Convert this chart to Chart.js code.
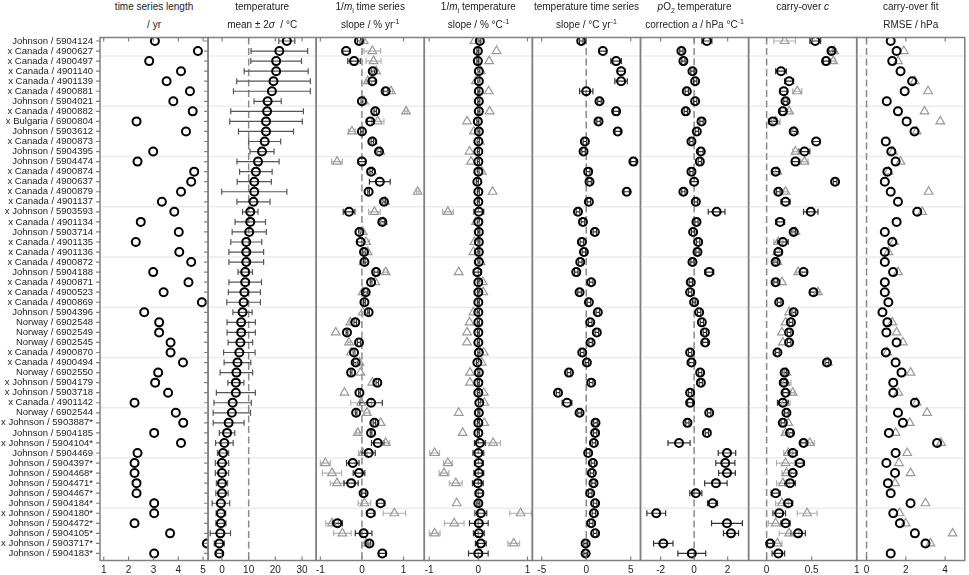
<!DOCTYPE html>
<html>
<head>
<meta charset="utf-8">
<script src="https://cdn.jsdelivr.net/npm/chart.js@4"></script>
<style>
  body { margin: 0; background: #fff; overflow: hidden; }
  #wrap { position: relative; width: 969px; height: 575px; overflow: hidden; font-family: "Liberation Sans", Arial, sans-serif; color: #222; }
  #wrap canvas { position: absolute; top: 0; }
  .hd { position: absolute; top: 0; text-align: center; font-size: 10px; line-height: 12px; white-space: nowrap; }
  .hd div { position: absolute; left: 0; right: 0; }
  .sb { font-size: 7px; position: relative; top: 3px; }
  .sp { font-size: 7px; position: relative; top: -4px; }
</style>
</head>
<body>
<div id="wrap"></div>
<script>
const rowLabels = [
  "Johnson / 5904124", "x Canada / 4900627", "x Canada / 4900497", "x Canada / 4901140", "x Canada / 4901139",
  "x Canada / 4900881", "Johnson / 5904021", "x Canada / 4900882", "x Bulgaria / 6900804", "Johnson / 5903612",
  "x Canada / 4900873", "Johnson / 5904395", "Johnson / 5904474", "x Canada / 4900874", "x Canada / 4900637",
  "x Canada / 4900879", "x Canada / 4901137", "x Johnson / 5903593", "x Canada / 4901134", "Johnson / 5903714",
  "x Canada / 4901135", "x Canada / 4901136", "x Canada / 4900872", "Johnson / 5904188", "x Canada / 4900871",
  "x Canada / 4900523", "x Canada / 4900869", "Johnson / 5904396", "Norway / 6902548", "Norway / 6902549",
  "Norway / 6902545", "x Canada / 4900870", "x Canada / 4900494", "Norway / 6902550", "x Johnson / 5904179",
  "x Johnson / 5903718", "x Canada / 4901142", "Norway / 6902544", "x Johnson / 5903887*", "Johnson / 5904185",
  "x Johnson / 5904104*", "Johnson / 5904469", "Johnson / 5904397*", "Johnson / 5904468*", "Johnson / 5904471*",
  "Johnson / 5904467*", "Johnson / 5904184*", "x Johnson / 5904180*", "Johnson / 5904472*", "Johnson / 5904105*",
  "x Johnson / 5903717*", "Johnson / 5904183*",
]

// time series length / yr
const tsLength = [
  3.06, 4.79, 2.83, 4.11, 3.53, 4.47, 3.80, 4.58, 2.32, 4.31,
  5.6, 2.99, 2.36, 4.64, 4.52, 4.11, 3.34, 3.84, 2.49, 4.02,
  2.29, 4.04, 4.52, 2.99, 4.41, 3.41, 4.95, 2.63, 3.23, 3.23,
  3.69, 3.69, 4.19, 3.19, 3.07, 3.59, 2.24, 3.90, 4.20, 3.03,
  4.11, 2.36, 2.24, 2.24, 2.32, 2.32, 3.03, 3.03, 2.24, 3.67,
  5.15, 3.03,
]

// temperature mean and 2 sigma / degC
const tempMean = [
  24.3, 21.5, 20.3, 20.3, 19.3, 18.7, 17.1, 16.9, 16.5, 16.5,
  16.0, 15.0, 13.5, 12.7, 12.1, 12.1, 11.8, 10.6, 10.6, 10.2,
  9.1, 9.1, 9.1, 8.7, 8.7, 8.4, 8.1, 7.7, 7.2, 7.2,
  6.9, 6.5, 5.8, 5.4, 5.2, 5.2, 4.0, 3.7, 2.5, 1.9,
  0.9, 0.4, 0.0, 0.0, 0.0, 0.0, -0.4, -0.4, -0.4, -0.6,
  -1.0, -1.0,
]
const temp2Sigma = [
  3.0, 10.6, 9.5, 12.0, 13.8, 14.4, 5.1, 13.6, 13.6, 10.3,
  6.0, 4.5, 7.9, 6.1, 6.4, 12.2, 6.2, 2.9, 5.7, 6.4,
  5.8, 6.5, 6.5, 2.7, 6.1, 6.0, 6.3, 3.6, 5.3, 5.3,
  4.6, 5.9, 5.0, 6.1, 3.0, 7.3, 7.0, 7.0, 5.8, 2.9,
  3.3, 2.1, 2.5, 2.5, 2.1, 2.3, 3.3, 1.8, 1.9, 3.8,
  1.9, 1.1,
]

// 1/m_i time series slope / % per yr (circles, triangles)
const slopeTime = [
  -0.07, -0.38, -0.19, 0.26, 0.25, 0.57, 0.0, 0.32, 0.2, 0.0,
  0.25, 0.41, 0.0, 0.22, 0.43, 0.16, 0.53, -0.31, 0.49, -0.06,
  -0.03, 0.05, 0.06, 0.34, 0.22, 0.09, 0.06, 0.16, -0.16, -0.36,
  -0.07, -0.19, -0.15, -0.26, 0.37, -0.06, 0.22, -0.14, 0.3, 0.22,
  0.38, 0.16, -0.22, -0.07, -0.26, 0.04, 0.45, 0.21, -0.59, 0.04,
  0.18, 0.49,
]
const slopeTimeErr = [
  0.04, 0.09, 0.15, 0.04, 0.07, 0.05, 0.02, 0.03, 0.07, 0.03,
  0.03, 0.05, 0.09, 0.03, 0.25, 0.02, 0.04, 0.14, 0.05, 0.02,
  0.08, 0.03, 0.02, 0.05, 0.02, 0.05, 0.02, 0.02, 0.03, 0.02,
  0.04, 0.02, 0.05, 0.02, 0.03, 0.02, 0.27, 0.02, 0.03, 0.02,
  0.15, 0.16, 0.15, 0.14, 0.17, 0.05, 0.1, 0.1, 0.12, 0.2,
  0.03, 0.09,
]
const slopeTimeAlt = [
  0.04, 0.25, 0.28, 0.34, 0.14, 0.70, 0.05, 1.06, 0.38, -0.24,
  0.26, 0.44, -0.6, 0.24, null, 1.34, 0.56, 0.30, 0.51, 0.02,
  0.10, 0.14, 0.04, 0.57, 0.32, 0.02, null, 0.02, -0.28, -0.63,
  -0.31, -0.26, -0.06, -0.04, 0.25, -0.42, -0.02, 0.12, 0.45, -0.1,
  0.57, 0.02, -0.88, -0.72, -0.6, null, 0.06, 0.78, -0.72, -0.47,
  0.1, null,
]
const slopeTimeAltErr = [
  0.02, 0.2, 0.18, 0.03, 0.04, 0.04, 0, 0.03, 0.15, 0.08,
  0, 0, 0.13, 0, 0, 0.03, 0.02, 0.14, 0, 0,
  0.08, 0.03, 0, 0.05, 0, 0.02, 0, 0, 0.03, 0,
  0.03, 0, 0, 0, 0, 0, 0.25, 0.07, 0, 0.04,
  0.1, 0.1, 0.12, 0.23, 0.16, 0, 0.15, 0.27, 0.15, 0.21,
  0.03, 0,
]

// 1/m_i temperature slope / % per degC
const slopeTemp = [
  0.03, -0.01, -0.01, 0.01, 0.01, 0.01, 0.01, 0.01, -0.01, 0.01,
  0, 0, 0, 0, -0.02, 0, 0, 0.01, 0, 0.01,
  0.01, 0.01, 0.01, -0.02, 0, 0, 0, 0, 0, 0,
  0, 0.01, -0.02, 0.01, 0, 0, 0.02, 0.01, 0, 0,
  0.03, 0, 0.01, 0.01, -0.01, 0.02, 0, 0.05, 0.01, 0.01,
  0.05, 0,
]
const slopeTempErr = [
  0.02, 0.02, 0.02, 0.02, 0.02, 0.02, 0.02, 0.02, 0.02, 0.02,
  0.02, 0.02, 0.02, 0.02, 0.02, 0.02, 0.02, 0.1, 0.02, 0.02,
  0.02, 0.02, 0.02, 0.08, 0.02, 0.02, 0.02, 0.02, 0.02, 0.02,
  0.02, 0.02, 0.02, 0.02, 0.02, 0.02, 0.02, 0.02, 0.02, 0.02,
  0.11, 0.11, 0.09, 0.1, 0.11, 0.08, 0.03, 0.12, 0.19, 0.11,
  0.11, 0.2,
]
const slopeTempAlt = [
  -0.08, 0.37, 0.22, 0.05, -0.05, 0.21, null, 0.23, -0.23, -0.09,
  0.03, -0.18, -0.15, 0.07, null, 0.29, null, -0.62, -0.05, null,
  -0.08, -0.1, 0.05, -0.4, 0.09, 0.1, null, -0.1, -0.18, -0.23,
  -0.23, 0.11, 0.07, -0.17, -0.17, 0.11, 0.12, -0.4, 0.12, -0.32,
  0.3, -0.89, -0.62, -0.7, -0.46, null, -0.44, 0.86, -0.49, -0.89,
  0.72, null,
]
const slopeTempAltErr = [
  0, 0, 0, 0, 0, 0, 0, 0, 0, 0,
  0, 0, 0, 0, 0, 0, 0, 0.11, 0, 0,
  0, 0, 0, 0, 0, 0, 0, 0, 0, 0,
  0, 0, 0, 0, 0, 0, 0, 0, 0, 0,
  0.15, 0.1, 0.09, 0.1, 0.13, 0, 0, 0.22, 0.2, 0.11,
  0.12, 0,
]

// temperature time series slope / degC per yr
const tempTrend = [
  -0.56, 1.87, 3.36, 3.92, 3.92, 0.0, 1.49, 3.36, 1.38, 3.54,
  -0.15, -0.3, 5.3, 0.22, 0.37, 4.55, 0.3, -0.93, -0.37, 0.97,
  -0.49, -0.26, -0.67, -1.12, 0.56, -0.75, 0.3, 1.3, 0.45, 1.19,
  0.49, -0.45, 0.07, -1.94, 0.56, -3.17, -2.16, -0.75, 1.04, 1.0,
  0.86, 0.22, 0.75, 0.63, 0.82, 0.45, 1.0, 0.86, 0.56, 1.0,
  -0.07, -0.07,
]
const tempTrendErr = [
  0.2, 0.4, 0.6, 0.4, 0.7, 0.75, 0.2, 0.3, 0.2, 0.3,
  0.2, 0.2, 0.3, 0.2, 0.2, 0.3, 0.2, 0.2, 0.2, 0.2,
  0.2, 0.2, 0.2, 0.2, 0.2, 0.2, 0.2, 0.2, 0.2, 0.2,
  0.2, 0.2, 0.2, 0.2, 0.2, 0.2, 0.55, 0.2, 0.2, 0.2,
  0.2, 0.2, 0.2, 0.2, 0.2, 0.2, 0.2, 0.2, 0.2, 0.2,
  0.2, 0.2,
]

// pO2 temperature correction a / hPa per degC
const corrA = [
  0.76, -0.76, -0.64, -0.1, 0.06, -0.44, 0.06, -0.5, 0.44, 0.16,
  -0.16, 0.4, 0.34, -0.16, 0, -0.64, 0.1, 1.34, 0.14, -0.06,
  0.24, 0.2, -0.1, 0.9, -0.2, -0.24, 0, 0.3, 0.46, 0.64,
  0.66, -0.24, -0.16, 0.36, 0.4, -0.24, -0.24, 0.9, -0.4, 0.76,
  -0.9, 1.96, 1.86, 1.96, 1.3, 0.1, 1.1, -2.26, 1.96, 2.2,
  -1.84, -0.14,
]
const corrAErr = [
  0.3, 0.1, 0.1, 0.1, 0.1, 0.1, 0.1, 0.1, 0.1, 0.1,
  0.1, 0.14, 0.1, 0.1, 0.2, 0.1, 0.1, 0.5, 0.1, 0.1,
  0.1, 0.1, 0.1, 0.27, 0.1, 0.1, 0.1, 0.1, 0.1, 0.1,
  0.15, 0.1, 0.15, 0.1, 0.1, 0.1, 0.15, 0.1, 0.1, 0.1,
  0.66, 0.52, 0.57, 0.5, 0.67, 0.36, 0.3, 0.56, 0.92, 0.45,
  0.58, 0.83,
]

// carry-over c
const carryC = [
  0.54, 0.72, 0.66, 0.16, 0.25, 0.19, 0.21, 0.18, 0.07, 0.30,
  0.55, 0.42, 0.32, 0.1, 0.76, 0.13, 0.21, 0.49, 0.15, 0.3,
  0.18, 0.13, 0.1, 0.41, 0.1, 0.52, 0.14, 0.3, 0.27, 0.25,
  0.25, 0.12, 0.67, 0.2, 0.19, 0.21, 0.18, 0.22, 0.18, 0.26,
  0.41, 0.29, 0.37, 0.29, 0.26, 0.1, 0.24, 0.14, 0.21, 0.35,
  0.04, 0.13,
]
const carryCErr = [
  0.06, 0.03, 0.03, 0.06, 0.05, 0.04, 0.02, 0.03, 0.05, 0.03,
  0.04, 0.06, 0.04, 0.04, 0.02, 0.02, 0.05, 0.08, 0.05, 0.02,
  0.06, 0.04, 0.02, 0.04, 0.02, 0.04, 0.02, 0.02, 0.02, 0.02,
  0.02, 0.02, 0.02, 0.02, 0.03, 0.03, 0.06, 0.02, 0.02, 0.03,
  0.03, 0.05, 0.05, 0.04, 0.06, 0.05, 0.05, 0.07, 0.05, 0.08,
  0.03, 0.07,
]
const carryCAlt = [
  0.20, 0.75, 0.74, null, null, 0.34, null, 0.25, 0.1, 0.31,
  null, 0.32, 0.42, 0.12, null, 0.21, null, null, null, 0.32,
  0.13, 0.12, 0.12, 0.35, 0.17, 0.57, null, 0.25, 0.21, 0.17,
  0.18, null, 0.68, 0.22, 0.21, 0.29, 0.2, null, 0.24, 0.21,
  0.48, 0.24, 0.21, 0.22, 0.18, null, 0.17, 0.45, 0.1, 0.25,
  0.12, null,
]
const carryCAltErr = [
  0.12, 0.02, 0.02, 0, 0, 0.05, 0, 0.02, 0.05, 0,
  0, 0.03, 0.04, 0, 0, 0.02, 0, 0, 0, 0,
  0.05, 0, 0, 0.02, 0, 0.02, 0, 0, 0, 0,
  0, 0, 0, 0.02, 0.06, 0.02, 0.06, 0, 0, 0.03,
  0.05, 0.05, 0.1, 0.05, 0.07, 0, 0.07, 0.11, 0.08, 0.11,
  0.05, 0,
]

// carry-over fit RMSE / hPa
const rmse = [
  1.23, 1.53, 1.31, 1.73, 2.32, 1.94, 1.03, 1.6, 2.04, 2.44,
  0.98, 1.26, 1.48, 1.06, 0.93, 1.23, 1.6, 2.58, 1.53, 0.93,
  1.31, 0.93, 0.93, 1.35, 0.93, 0.93, 1.11, 0.81, 1.06, 1.01,
  1.53, 0.98, 1.48, 1.78, 1.36, 1.36, 2.46, 1.6, 1.85, 1.14,
  3.59, 1.48, 1.01, 1.45, 1.09, 1.23, 2.24, 1.36, 1.7, 2.46,
  3.0, 1.23,
]
const rmseAlt = [
  null, 1.9, 1.6, null, 2.45, 3.13, null, 2.95, 3.75, 2.55,
  null, 1.35, 1.73, 1.12, null, 3.16, null, 2.83, null, null,
  1.4, 1.11, null, 1.6, null, null, null, null, 1.31, 1.53,
  1.85, 1.05, null, 2.24, null, 1.62, 2.55, 3.08, 2.2, 1.48,
  3.79, 2.07, 1.65, 2.24, 1.45, null, 3.0, 1.68, 1.99, 4.38,
  3.25, null,
]

// tick labels of the bottom axes
const lengthTicks = [1, 2, 3, 4, 5]
const tempTicks = [0, 10, 20, 30]
const slopeTimeTicks = [-1, 0, 1]
const slopeTempTicks = [-1, 0, 1]
const trendTicks = [-5, 0, 5]
const corrTicks = [-2, 0, 2]
const carryTicks = [0, 0.5, 1]
const rmseTicks = [0, 2, 4]

const PLOT_LEFT = 100
const PANEL_W = 108.1
const PAD = 12

const panels = [
  { head: ["time series length", "/ yr"], range: [0.85, 5.2], ticks: lengthTicks, ref: null,
    main: tsLength },
  { head: ["temperature", "mean ± 2<i>σ</i>&nbsp; / °C"], range: [-5.2, 35.3], ticks: tempTicks, ref: 10,
    main: tempMean, mainErr: temp2Sigma, errColor: "#555" },
  { head: ["1/<i>m</i><span class=\"sb\">i</span> time series", "slope / % yr<span class=\"sp\">-1</span>"],
    range: [-1.1, 1.5], ticks: slopeTimeTicks, ref: 0,
    main: slopeTime, mainErr: slopeTimeErr, alt: slopeTimeAlt, altErr: slopeTimeAltErr },
  { head: ["1/<i>m</i><span class=\"sb\">i</span> temperature", "slope / % °C<span class=\"sp\">-1</span>"],
    range: [-1.1, 1.1], ticks: slopeTempTicks, ref: 0,
    main: slopeTemp, mainErr: slopeTempErr, alt: slopeTempAlt, altErr: slopeTempAltErr },
  { head: ["temperature time series", "slope / °C yr<span class=\"sp\">-1</span>"],
    range: [-6.05, 6.1], ticks: trendTicks, ref: 0,
    main: tempTrend, mainErr: tempTrendErr },
  { head: ["<i>p</i>O<span class=\"sb\">2</span> temperature", "correction <i>a</i> / hPa °C<span class=\"sp\">-1</span>"],
    range: [-3.2, 3.25], ticks: corrTicks, ref: 0,
    main: corrA, mainErr: corrAErr },
  { head: ["carry-over <i>c</i>", ""], range: [-0.2, 1.0], ticks: carryTicks, ref: 0,
    main: carryC, mainErr: carryCErr, alt: carryCAlt, altErr: carryCAltErr },
  { head: ["carry-over fit", "RMSE / hPa"], range: [-0.5, 5.0], ticks: rmseTicks, ref: 0,
    main: rmse, alt: rmseAlt },
]

const toPoints = (vals, errs) =>
  vals.map((v, i) => ({ x: v, y: i + 1, e: errs ? errs[i] : 0 })).filter(p => p.x !== null)

// frame, separators, reference line and error bars
const framePlugin = {
  id: "frame",
  beforeDatasetsDraw(chart, args, opts) {
    const { ctx, chartArea: a } = chart
    const x = chart.scales.x
    const y = chart.scales.y
    ctx.save()
    ctx.beginPath()
    ctx.rect(a.left, a.top, a.right - a.left, a.bottom - a.top)
    ctx.clip()

    ctx.strokeStyle = "#ebebeb"
    ctx.lineWidth = 1.5
    for (let r = 2.5; r < rowLabels.length; r += 5) {
      const py = y.getPixelForValue(r)
      ctx.beginPath()
      ctx.moveTo(a.left, py)
      ctx.lineTo(a.right, py)
      ctx.stroke()
    }

    if (opts.ref !== null) {
      const px = x.getPixelForValue(opts.ref)
      ctx.strokeStyle = "#8a8a8a"
      ctx.lineWidth = 1.5
      ctx.setLineDash([7, 3.5])
      ctx.beginPath()
      ctx.moveTo(px, a.top)
      ctx.lineTo(px, a.bottom)
      ctx.stroke()
      ctx.setLineDash([])
    }

    ctx.lineWidth = 1.2
    chart.data.datasets.slice().reverse().forEach(ds => {
      ctx.strokeStyle = ds.errColor
      ds.data.forEach(pt => {
        if (!pt.e) return
        const x0 = x.getPixelForValue(pt.x - pt.e)
        const x1 = x.getPixelForValue(pt.x + pt.e)
        const py = y.getPixelForValue(pt.y)
        ctx.beginPath()
        ctx.moveTo(x0, py)
        ctx.lineTo(x1, py)
        ctx.moveTo(x0, py - 3)
        ctx.lineTo(x0, py + 3)
        ctx.moveTo(x1, py - 3)
        ctx.lineTo(x1, py + 3)
        ctx.stroke()
      })
    })
    ctx.restore()
  },
  afterDraw(chart, args, opts) {
    const { ctx, chartArea: a } = chart
    const x = chart.scales.x
    const y = chart.scales.y
    ctx.save()
    ctx.strokeStyle = "#808080"
    ctx.lineWidth = 1.5
    ctx.strokeRect(a.left, a.top, a.right - a.left, a.bottom - a.top)
    ctx.lineWidth = 1.2
    ctx.beginPath()
    x.ticks.forEach(t => {
      const px = x.getPixelForValue(t.value)
      ctx.moveTo(px, a.top)
      ctx.lineTo(px, a.top + 4)
      ctx.moveTo(px, a.bottom)
      ctx.lineTo(px, a.bottom - 4)
    })
    if (opts.rowTicks) {
      rowLabels.forEach((_, i) => {
        const py = y.getPixelForValue(i + 1)
        ctx.moveTo(a.left - 4, py)
        ctx.lineTo(a.left, py)
        ctx.moveTo(a.right - 4, py)
        ctx.lineTo(a.right, py)
      })
    }
    ctx.stroke()
    ctx.restore()
  },
}

Chart.defaults.font.family = '"Liberation Sans", Arial, sans-serif'
Chart.defaults.font.size = 10
Chart.defaults.color = "#222"

const wrap = document.getElementById("wrap")

panels.forEach((p, k) => {
  const panelLeft = PLOT_LEFT + k * PANEL_W
  const panelRight = panelLeft + PANEL_W
  const canvasLeft = k === 0 ? 0 : Math.floor(panelLeft - PAD)
  const canvasRight = Math.ceil(panelRight + PAD)
  const width = canvasRight - canvasLeft

  const head = document.createElement("div")
  head.className = "hd"
  head.style.left = panelLeft + "px"
  head.style.width = PANEL_W + "px"
  head.innerHTML = `<div style="top:1px">${p.head[0]}</div><div style="top:19px">${p.head[1]}</div>`
  wrap.appendChild(head)

  const canvas = document.createElement("canvas")
  canvas.width = width
  canvas.height = 575
  canvas.style.left = canvasLeft + "px"
  canvas.style.width = width + "px"
  canvas.style.height = "575px"
  wrap.appendChild(canvas)

  const datasets = [{
    data: toPoints(p.main, p.mainErr),
    pointStyle: "circle",
    pointRadius: 4,
    pointBorderWidth: 2,
    pointBorderColor: "#000",
    pointBackgroundColor: "rgba(0,0,0,0)",
    errColor: p.errColor || "#333",
    clip: 0,
  }]
  if (p.alt) {
    datasets.push({
      data: toPoints(p.alt, p.altErr),
      pointStyle: "triangle",
      pointRadius: 5,
      pointBorderWidth: 1.2,
      pointBorderColor: "#999",
      pointBackgroundColor: "rgba(0,0,0,0)",
      errColor: "#b0b0b0",
      clip: 0,
    })
  }

  new Chart(canvas, {
    type: "scatter",
    data: { datasets },
    plugins: [framePlugin],
    options: {
      responsive: false,
      animation: false,
      layout: {
        padding: {
          top: 37.5,
          bottom: 0,
          left: k === 0 ? 0 : panelLeft - canvasLeft,
          right: canvasRight - panelRight,
        },
      },
      plugins: {
        legend: { display: false },
        tooltip: { enabled: false },
        frame: { ref: p.ref, rowTicks: k === 0 },
      },
      scales: {
        x: {
          type: "linear",
          position: "bottom",
          bounds: "data",
          min: p.range[0],
          max: p.range[1],
          grid: { display: false, drawTicks: false },
          border: { display: false },
          ticks: { autoSkip: false, maxRotation: 0, padding: 4, callback: v => String(v) },
          afterBuildTicks: s => { s.ticks = p.ticks.map(v => ({ value: v })) },
          afterFit: s => { s.height = 14.5 },
        },
        y: {
          type: "linear",
          reverse: true,
          bounds: "data",
          min: 0.65,
          max: 52.7,
          display: k === 0,
          grid: { display: false, drawTicks: false },
          border: { display: false },
          ticks: { autoSkip: false, padding: 7, font: { size: 9.5 }, callback: v => rowLabels[v - 1] },
          afterBuildTicks: s => { s.ticks = rowLabels.map((_, i) => ({ value: i + 1 })) },
          afterFit: s => { if (k === 0) s.width = 100 },
        },
      },
    },
  })
})
</script>
</body>
</html>
